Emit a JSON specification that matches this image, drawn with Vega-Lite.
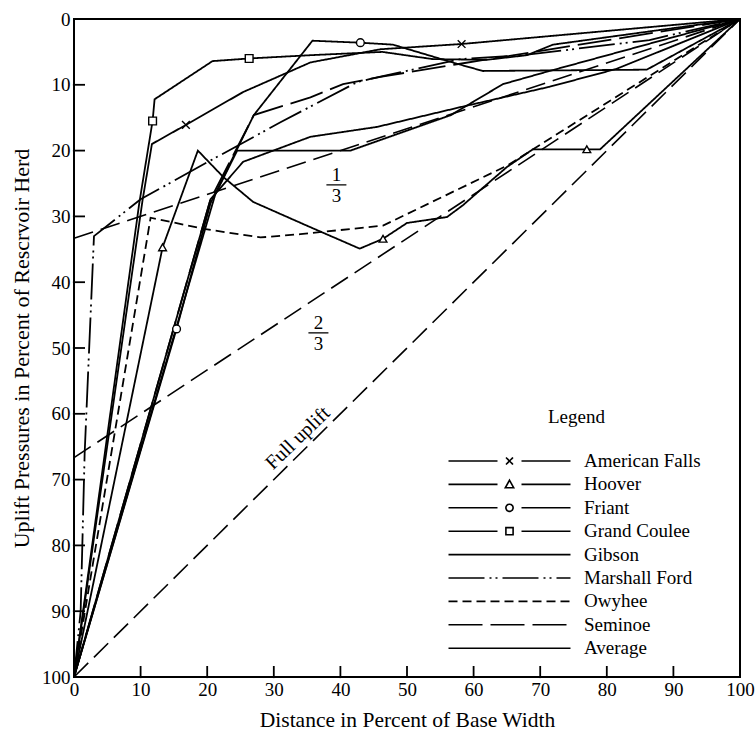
{
  "$schema": "https://vega.github.io/schema/vega-lite/v6.json",
  "width": 666,
  "height": 658,
  "autosize": {"type": "none"},
  "padding": {"left": 74, "top": 19, "right": 16, "bottom": 59},
  "background": "white",
  "config": {
    "view": {"stroke": "black", "strokeWidth": 2},
    "font": "Liberation Serif",
    "axis": {
      "domain": false, "ticks": false,
      "labelFont": "Liberation Serif", "labelFontSize": 19, "labelColor": "black",
      "titleFont": "Liberation Serif", "titleFontSize": 22, "titleFontWeight": "normal", "titleColor": "black",
      "grid": false, "labelFlush": false, "labelOverlap": false, "labelBound": false
    }
  },
  "datasets": {
    "series": [
      {"s": "American Falls", "x": 0, "y": 100}, {"s": "American Falls", "x": 10.3, "y": 27.5}, {"s": "American Falls", "x": 11.7, "y": 19}, {"s": "American Falls", "x": 16.8, "y": 16.1}, {"s": "American Falls", "x": 25.4, "y": 11.1}, {"s": "American Falls", "x": 35.5, "y": 6.6}, {"s": "American Falls", "x": 46, "y": 4.6}, {"s": "American Falls", "x": 58.2, "y": 3.8}, {"s": "American Falls", "x": 100, "y": 0},
      {"s": "Hoover", "x": 0, "y": 100}, {"s": "Hoover", "x": 13.3, "y": 34.7}, {"s": "Hoover", "x": 18.6, "y": 20}, {"s": "Hoover", "x": 22.4, "y": 24}, {"s": "Hoover", "x": 26.9, "y": 27.8}, {"s": "Hoover", "x": 35.4, "y": 31.6}, {"s": "Hoover", "x": 42.9, "y": 34.9}, {"s": "Hoover", "x": 46.4, "y": 33.4}, {"s": "Hoover", "x": 50, "y": 31}, {"s": "Hoover", "x": 56, "y": 30.1}, {"s": "Hoover", "x": 58.4, "y": 28.3}, {"s": "Hoover", "x": 61, "y": 26}, {"s": "Hoover", "x": 65, "y": 22.5}, {"s": "Hoover", "x": 68.9, "y": 19.8}, {"s": "Hoover", "x": 79, "y": 19.8}, {"s": "Hoover", "x": 100, "y": 0},
      {"s": "Friant", "x": 0, "y": 100}, {"s": "Friant", "x": 15.4, "y": 47.1}, {"s": "Friant", "x": 20.5, "y": 28}, {"s": "Friant", "x": 27, "y": 14.6}, {"s": "Friant", "x": 35.8, "y": 3.3}, {"s": "Friant", "x": 43, "y": 3.6}, {"s": "Friant", "x": 47.9, "y": 3.9}, {"s": "Friant", "x": 57.5, "y": 6.8}, {"s": "Friant", "x": 61.4, "y": 7.9}, {"s": "Friant", "x": 86, "y": 7.7}, {"s": "Friant", "x": 100, "y": 0},
      {"s": "Grand Coulee", "x": 0, "y": 100}, {"s": "Grand Coulee", "x": 9.8, "y": 28}, {"s": "Grand Coulee", "x": 11.8, "y": 15.5}, {"s": "Grand Coulee", "x": 12.1, "y": 12.2}, {"s": "Grand Coulee", "x": 20.8, "y": 6.4}, {"s": "Grand Coulee", "x": 26.3, "y": 6.0}, {"s": "Grand Coulee", "x": 35.5, "y": 5.5}, {"s": "Grand Coulee", "x": 46.3, "y": 5.0}, {"s": "Grand Coulee", "x": 53.9, "y": 6.1}, {"s": "Grand Coulee", "x": 62, "y": 6.2}, {"s": "Grand Coulee", "x": 68, "y": 5.5}, {"s": "Grand Coulee", "x": 71.9, "y": 3.9}, {"s": "Grand Coulee", "x": 100, "y": 0},
      {"s": "Gibson", "x": 0, "y": 100}, {"s": "Gibson", "x": 21.2, "y": 26.7}, {"s": "Gibson", "x": 24.5, "y": 20}, {"s": "Gibson", "x": 41.5, "y": 20}, {"s": "Gibson", "x": 56.6, "y": 14.6}, {"s": "Gibson", "x": 64.4, "y": 9.9}, {"s": "Gibson", "x": 71.4, "y": 7.9}, {"s": "Gibson", "x": 100, "y": 0},
      {"s": "Marshall Ford", "x": 0, "y": 100}, {"s": "Marshall Ford", "x": 1, "y": 90}, {"s": "Marshall Ford", "x": 1.6, "y": 66}, {"s": "Marshall Ford", "x": 3, "y": 33}, {"s": "Marshall Ford", "x": 10, "y": 27.4}, {"s": "Marshall Ford", "x": 20.5, "y": 21.5}, {"s": "Marshall Ford", "x": 31, "y": 15.7}, {"s": "Marshall Ford", "x": 42.5, "y": 9.6}, {"s": "Marshall Ford", "x": 44.5, "y": 9.1}, {"s": "Marshall Ford", "x": 58, "y": 6.1}, {"s": "Marshall Ford", "x": 67.4, "y": 5.5}, {"s": "Marshall Ford", "x": 86.4, "y": 3.2}, {"s": "Marshall Ford", "x": 100, "y": 0},
      {"s": "Owyhee", "x": 0, "y": 100}, {"s": "Owyhee", "x": 11.5, "y": 30.2}, {"s": "Owyhee", "x": 19.5, "y": 31.9}, {"s": "Owyhee", "x": 28, "y": 33.2}, {"s": "Owyhee", "x": 34, "y": 32.7}, {"s": "Owyhee", "x": 46.4, "y": 31.4}, {"s": "Owyhee", "x": 65, "y": 22.3}, {"s": "Owyhee", "x": 100, "y": 0},
      {"s": "Seminoe", "x": 0, "y": 100}, {"s": "Seminoe", "x": 20.5, "y": 27.4}, {"s": "Seminoe", "x": 27, "y": 14.6}, {"s": "Seminoe", "x": 35.5, "y": 11.9}, {"s": "Seminoe", "x": 40.4, "y": 9.9}, {"s": "Seminoe", "x": 46, "y": 8.8}, {"s": "Seminoe", "x": 58, "y": 6.8}, {"s": "Seminoe", "x": 100, "y": 0},
      {"s": "Average", "x": 0, "y": 100}, {"s": "Average", "x": 20.5, "y": 27.4}, {"s": "Average", "x": 25.4, "y": 21.7}, {"s": "Average", "x": 35.5, "y": 17.9}, {"s": "Average", "x": 45.5, "y": 16.4}, {"s": "Average", "x": 58, "y": 13.4}, {"s": "Average", "x": 71.4, "y": 10.3}, {"s": "Average", "x": 81.4, "y": 7.6}, {"s": "Average", "x": 100, "y": 0}
    ],
    "markers": [
      {"s": "American Falls", "x": 16.8, "y": 16.1}, {"s": "American Falls", "x": 58.2, "y": 3.8},
      {"s": "Hoover", "x": 13.3, "y": 34.7}, {"s": "Hoover", "x": 46.4, "y": 33.4}, {"s": "Hoover", "x": 77, "y": 19.8},
      {"s": "Friant", "x": 15.4, "y": 47.1}, {"s": "Friant", "x": 43, "y": 3.6},
      {"s": "Grand Coulee", "x": 11.8, "y": 15.5}, {"s": "Grand Coulee", "x": 26.3, "y": 6.0}
    ],
    "refs": [
      {"r": "1/3", "x": 0, "y": 33.33}, {"r": "1/3", "x": 100, "y": 0},
      {"r": "2/3", "x": 0, "y": 66.67}, {"r": "2/3", "x": 100, "y": 0},
      {"r": "full", "x": 0, "y": 100}, {"r": "full", "x": 100, "y": 0}
    ],
    "xticks": [
      {"x": 10, "y": 100}, {"x": 20, "y": 100}, {"x": 30, "y": 100}, {"x": 40, "y": 100}, {"x": 50, "y": 100},
      {"x": 60, "y": 100}, {"x": 70, "y": 100}, {"x": 80, "y": 100}, {"x": 90, "y": 100}
    ],
    "yticks": [
      {"x": 0, "y": 10}, {"x": 0, "y": 20}, {"x": 0, "y": 30}, {"x": 0, "y": 40}, {"x": 0, "y": 50},
      {"x": 0, "y": 60}, {"x": 0, "y": 70}, {"x": 0, "y": 80}, {"x": 0, "y": 90}
    ],
    "fractions": [
      {"num": "1", "den": "3", "x": 39.4, "y": 25.2},
      {"num": "2", "den": "3", "x": 36.7, "y": 47.7}
    ],
    "notes": [
      {"label": "Full uplift", "x": 33.6, "y": 63.7}
    ]
  },
  "encoding": {
    "x": {"field": "x", "type": "quantitative",
      "scale": {"domain": [0, 100], "nice": false, "zero": false},
      "axis": {"title": "Distance in Percent of Base Width", "titleFontSize": 21.5, "values": [0, 10, 20, 30, 40, 50, 60, 70, 80, 90, 100], "labelPadding": 3, "titlePadding": 10}},
    "y": {"field": "y", "type": "quantitative",
      "scale": {"domain": [0, 100], "nice": false, "reverse": true},
      "axis": {"title": "Uplift Pressures in Percent of Rescrvoir Herd", "values": [0, 10, 20, 30, 40, 50, 60, 70, 80, 90, 100], "labelPadding": 4, "titlePadding": 8}}
  },
  "layer": [
    {
      "data": {"name": "refs"},
      "mark": {"type": "line", "color": "black", "strokeWidth": 1.6, "strokeDash": [20, 8]},
      "encoding": {"detail": {"field": "r"}}
    },
    {
      "data": {"name": "xticks"},
      "mark": {"type": "point", "shape": "M0,0.2V-2", "size": 121, "filled": false, "stroke": "black", "strokeWidth": 1.8, "opacity": 1}
    },
    {
      "data": {"name": "yticks"},
      "mark": {"type": "point", "shape": "M-0.2,0H2", "size": 121, "filled": false, "stroke": "black", "strokeWidth": 1.8, "opacity": 1}
    },
    {
      "data": {"name": "series"},
      "mark": {"type": "line", "color": "black", "strokeWidth": 1.8},
      "encoding": {
        "strokeDash": {
          "field": "s", "type": "nominal",
          "scale": {
            "domain": ["American Falls", "Hoover", "Friant", "Grand Coulee", "Gibson", "Marshall Ford", "Owyhee", "Seminoe", "Average"],
            "range": [[1, 0], [1, 0], [1, 0], [1, 0], [1, 0], [36, 5, 2, 4, 2, 5], [9, 5], [34, 8], [1, 0]]
          },
          "legend": {
            "orient": "none", "legendX": 424.5, "legendY": 389, "title": "Legend",
            "titleFont": "Liberation Serif", "titleFontSize": 19, "titleFontWeight": "normal", "titleColor": "black",
            "titlePadding": 23, "titleAnchor": "start",
            "symbolType": "M-6.1,0H6.1", "symbolSize": 400, "symbolStrokeWidth": 1.6, "symbolStrokeColor": "black",
            "labelFont": "Liberation Serif", "labelFontSize": 19, "labelColor": "black", "labelOffset": 63.5, "labelLimit": 300,
            "rowPadding": 2.4, "padding": 0,
            "encode": {
              "symbols": {"update": {
                "shape": {"signal": "datum.value === 'American Falls' ? 'M-6.1,0H-1.2M1.2,0H6.1M-0.35,-0.35L0.35,0.35M-0.35,0.35L0.35,-0.35' : datum.value === 'Hoover' ? 'M-6.1,0H-1.2M1.2,0H6.1M0,-0.42L0.42,0.34L-0.42,0.34Z' : datum.value === 'Friant' ? 'M-6.1,0H-1.2M1.2,0H6.1M0.36,0A0.36,0.36,0,1,1,-0.36,0A0.36,0.36,0,1,1,0.36,0Z' : datum.value === 'Grand Coulee' ? 'M-6.1,0H-1.2M1.2,0H6.1M-0.36,-0.36H0.36V0.36H-0.36Z' : 'M-6.1,0H6.1'"},
                "fill": {"value": "white"},
                "stroke": {"value": "black"}
              }},
              "title": {"update": {"dx": {"value": 49.5}}}
            }
          }
        }
      }
    },
    {
      "data": {"name": "markers"},
      "mark": {"type": "point", "fill": "white", "stroke": "black", "strokeWidth": 1.4, "size": 60, "opacity": 1},
      "encoding": {
        "shape": {"field": "s", "type": "nominal", "legend": null,
          "scale": {"domain": ["American Falls", "Hoover", "Friant", "Grand Coulee"],
            "range": ["M-1,-1L1,1M-1,1L1,-1", "triangle-up", "circle", "square"]}}
      }
    },
    {
      "data": {"name": "fractions"},
      "mark": {"type": "text", "font": "Liberation Serif", "fontSize": 19, "color": "black", "baseline": "middle", "align": "center", "dy": -10},
      "encoding": {"text": {"field": "num"}}
    },
    {
      "data": {"name": "fractions"},
      "mark": {"type": "text", "font": "Liberation Serif", "fontSize": 19, "color": "black", "baseline": "middle", "align": "center", "dy": 11},
      "encoding": {"text": {"field": "den"}}
    },
    {
      "data": {"name": "fractions"},
      "mark": {"type": "tick", "orient": "horizontal", "size": 20, "thickness": 1.3, "color": "black", "opacity": 1}
    },
    {
      "data": {"name": "notes"},
      "mark": {"type": "text", "font": "Liberation Serif", "fontSize": 20, "color": "black", "angle": -44, "baseline": "middle", "align": "center"},
      "encoding": {"text": {"field": "label"}}
    }
  ]
}
